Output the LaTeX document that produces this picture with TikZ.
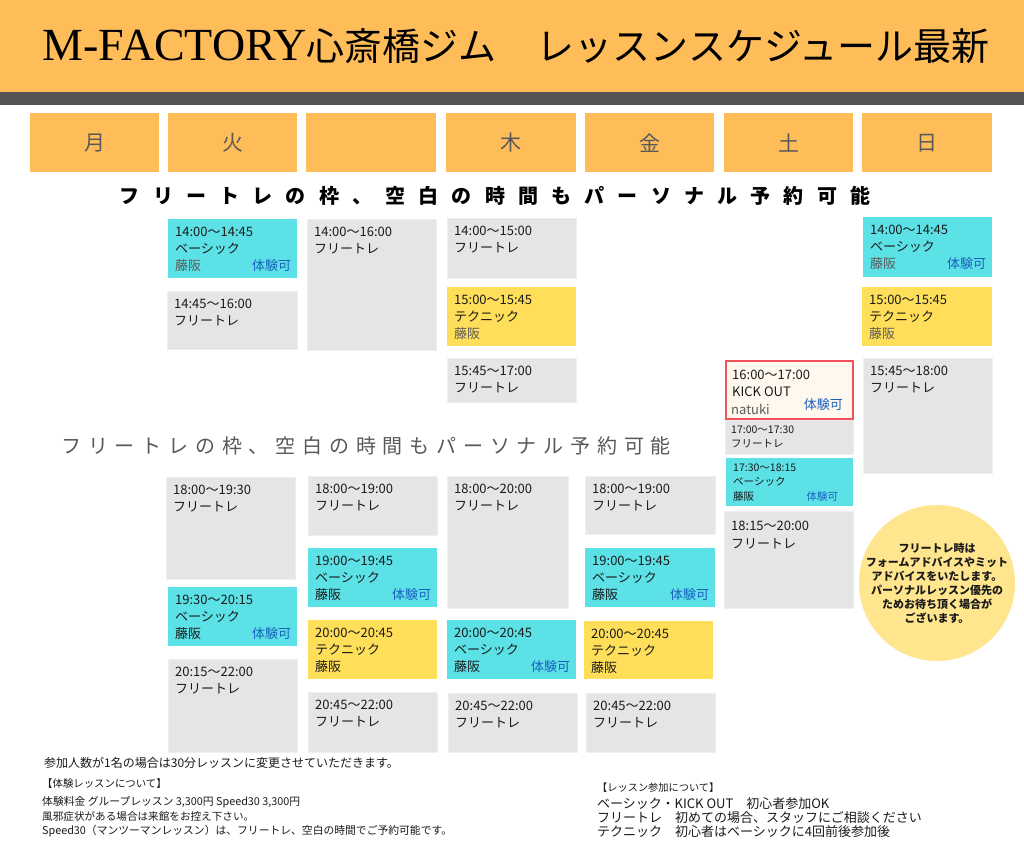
\documentclass[tikz,border=0pt]{standalone}
\usepackage{fontspec}
\setmainfont{Noto Sans CJK JP}
\newfontfamily\titleserif{Liberation Serif}
\definecolor{hdrorange}{HTML}{FFBD59}
\definecolor{hdrdark}{HTML}{545454}
\definecolor{daytx}{HTML}{595959}
\definecolor{slotcyan}{HTML}{5CE1E6}
\definecolor{slotyellow}{HTML}{FFDE59}
\definecolor{slotgray}{HTML}{E5E5E5}
\definecolor{slotcream}{HTML}{FFF8EE}
\definecolor{slotred}{HTML}{F0525A}
\definecolor{circyellow}{HTML}{FFE58E}
\definecolor{bluetx}{HTML}{1B5FC1}
\definecolor{teachtx}{HTML}{5A5A5A}
\definecolor{txt}{HTML}{1A1A1A}
\newcommand\spacedtext[2]{\def\spacedw{#1}\spacedloop#2\relax}
\def\spacedloop#1{\ifx\relax#1\else\makebox[\spacedw][c]{#1}\expandafter\spacedloop\fi}
\tikzset{
  daybox/.style={fill=hdrorange,inner sep=0pt,anchor=north west,text=daytx,font=\fontsize{21}{21}\selectfont},
  slotbase/.style={inner sep=0pt,anchor=north west},
  cyanslot/.style={slotbase,fill=slotcyan},
  yellowslot/.style={slotbase,fill=slotyellow},
  grayslot/.style={slotbase,fill=slotgray,draw=slotgray!60!white,line width=0.8pt},
  kickslot/.style={slotbase,fill=slotcream,draw=slotred,line width=2pt},
  tx/.style={inner sep=0pt,text=txt,font=\fontsize{13}{13}\selectfont},
  smalltx/.style={inner sep=0pt,text=txt,font=\fontsize{10.5}{10.5}\selectfont},
  notetx/.style={inner sep=0pt,text=txt,anchor=base west}
}
% name, x1, y1, x2, y2, style
\newcommand\slot[6]{\node[#6,minimum width={#4-#2},minimum height={#5-#3}] (#1) at (#2,#3) {};}
% box, offset, text
\newcommand\tL[3]{\node[tx,anchor=base west] (#1-l#2) at ([shift={(7,#2)}]#1.north west) {#3};}
\newcommand\tT[2]{\node[tx,anchor=base west,text=teachtx] (#1-t) at ([shift={(7,#2)}]#1.north west) {藤阪};}
\newcommand\tB[2]{\node[tx,anchor=base west] (#1-t) at ([shift={(7,#2)}]#1.north west) {藤阪};}
\newcommand\tR[2]{\node[tx,anchor=base east,text=bluetx] (#1-r) at ([shift={(-6,#2)}]#1.north east) {体験可};}
\newcommand\freeslot[2]{\tL{#1}{17}{#2}\tL{#1}{34}{フリートレ}}
\newcommand\basicslot[2]{\tL{#1}{17}{#2}\tL{#1}{34}{ベーシック}\tB{#1}{51}\tR{#1}{51}}
\newcommand\techslot[2]{\tL{#1}{17}{#2}\tL{#1}{34}{テクニック}\tB{#1}{51}}
\begin{document}
\begin{tikzpicture}[x=1pt,y=-1pt]
\useasboundingbox (0,0) rectangle (1024,862);
\fill[white] (0,0) rectangle (1024,862);
% header
\node[fill=hdrorange,minimum width=1024,minimum height=92,inner sep=0pt,anchor=north west] (hdr) at (0,0) {};
\node[fill=hdrdark,minimum width=1024,minimum height=13,inner sep=0pt,anchor=north west] (hdrbar) at (0,92) {};
\node[inner sep=0pt,anchor=base,text=black] (title) at (516,60) {{\titleserif\fontsize{46}{46}\selectfont M-FACTORY}{\fontsize{38}{38}\selectfont 心斎橋ジム\hspace{40pt}レッスンスケジュール最新}};
% day boxes
\node[daybox,minimum width=129,minimum height=59] (d1) at (30,113) {月};
\node[daybox,minimum width=129,minimum height=59] (d2) at (168,113) {火};
\node[daybox,minimum width=130,minimum height=59] (d3) at (306,113) {};
\node[daybox,minimum width=130,minimum height=59] (d4) at (446,113) {木};
\node[daybox,minimum width=129,minimum height=59] (d5) at (585,113) {金};
\node[daybox,minimum width=129,minimum height=59] (d6) at (724,113) {土};
\node[daybox,minimum width=130,minimum height=59] (d7) at (862,113) {日};
% banners
\node[inner sep=0pt,text=black,font=\bfseries\fontsize{20}{20}\selectfont] (ban1) at (495,196) {\spacedtext{33.2pt}{フリートレの枠、空白の時間もパーソナル予約可能}};
\node[inner sep=0pt,text=daytx,font=\fontsize{20}{20}\selectfont] (ban2) at (366,446) {\spacedtext{26.8pt}{フリートレの枠、空白の時間もパーソナル予約可能}};
% ---- afternoon slots
\slot{tueA}{168}{219}{297}{278}{cyanslot}
\tL{tueA}{17}{14:00〜14:45}\tL{tueA}{34}{ベーシック}\tT{tueA}{51}\tR{tueA}{51}
\slot{tueB}{167}{291}{297}{349}{grayslot}
\freeslot{tueB}{14:45〜16:00}
\slot{wedA}{307}{219}{436}{350}{grayslot}
\freeslot{wedA}{14:00〜16:00}
\slot{thuA}{447}{218}{576}{278}{grayslot}
\freeslot{thuA}{14:00〜15:00}
\slot{thuB}{447}{287}{576}{346}{yellowslot}
\tL{thuB}{17}{15:00〜15:45}\tL{thuB}{34}{テクニック}\tT{thuB}{51}
\slot{thuC}{447}{358}{576}{402}{grayslot}
\freeslot{thuC}{15:45〜17:00}
\slot{sunA}{863}{217}{992}{277}{cyanslot}
\tL{sunA}{17}{14:00〜14:45}\tL{sunA}{34}{ベーシック}\tT{sunA}{51}\tR{sunA}{51}
\slot{sunB}{862}{287}{992}{346}{yellowslot}
\tL{sunB}{17}{15:00〜15:45}\tL{sunB}{34}{テクニック}\tT{sunB}{51}
\slot{sunC}{863}{358}{992}{473}{grayslot}
\freeslot{sunC}{15:45〜18:00}
% saturday
\slot{satA}{725}{360}{852}{418}{kickslot}
\tL{satA}{19}{16:00〜17:00}\tL{satA}{36}{KICK OUT}
\node[tx,anchor=base west,text=teachtx] (satA-t) at ([shift={(6,54)}]satA.north west) {natuki};
\node[tx,anchor=base east,text=bluetx] (satA-r) at ([shift={(-11,49)}]satA.north east) {体験可};
\slot{satB}{725}{420}{853}{454}{grayslot}
\node[smalltx,anchor=base west] (satB-a) at ([shift={(6,13)}]satB.north west) {17:00〜17:30};
\node[smalltx,anchor=base west] (satB-b) at ([shift={(6,27)}]satB.north west) {フリートレ};
\slot{satC}{726}{458}{853}{506}{cyanslot}
\node[smalltx,anchor=base west] (satC-a) at ([shift={(7,13)}]satC.north west) {17:30〜18:15};
\node[smalltx,anchor=base west] (satC-b) at ([shift={(7,27)}]satC.north west) {ベーシック};
\node[smalltx,anchor=base west] (satC-c) at ([shift={(7,42)}]satC.north west) {藤阪};
\node[smalltx,anchor=base east,text=bluetx] (satC-r) at ([shift={(-15,42)}]satC.north east) {体験可};
\slot{satD}{724}{511}{853}{608}{grayslot}
\tL{satD}{19}{18:15〜20:00}\tL{satD}{37}{フリートレ}
% ---- evening slots
\slot{tueC}{166}{477}{295}{579}{grayslot}
\freeslot{tueC}{18:00〜19:30}
\slot{tueD}{168}{587}{297}{646}{cyanslot}
\basicslot{tueD}{19:30〜20:15}
\slot{tueE}{168}{659}{297}{752}{grayslot}
\freeslot{tueE}{20:15〜22:00}
\slot{wedB}{308}{476}{437}{535}{grayslot}
\freeslot{wedB}{18:00〜19:00}
\slot{wedC}{308}{548}{437}{607}{cyanslot}
\basicslot{wedC}{19:00〜19:45}
\slot{wedD}{308}{620}{437}{679}{yellowslot}
\techslot{wedD}{20:00〜20:45}
\slot{wedE}{308}{692}{437}{752}{grayslot}
\freeslot{wedE}{20:45〜22:00}
\slot{thuD}{447}{476}{568}{608}{grayslot}
\freeslot{thuD}{18:00〜20:00}
\slot{thuE}{447}{620}{576}{679}{cyanslot}
\basicslot{thuE}{20:00〜20:45}
\slot{thuF}{448}{693}{577}{752}{grayslot}
\freeslot{thuF}{20:45〜22:00}
\slot{friA}{585}{476}{715}{534}{grayslot}
\freeslot{friA}{18:00〜19:00}
\slot{friB}{585}{548}{715}{607}{cyanslot}
\basicslot{friB}{19:00〜19:45}
\slot{friC}{584}{621}{713}{679}{yellowslot}
\techslot{friC}{20:00〜20:45}
\slot{friD}{586}{693}{715}{752}{grayslot}
\freeslot{friD}{20:45〜22:00}
% note circle
\node[circle,fill=circyellow,minimum size=156,inner sep=0pt] (note) at (937,583) {};
\node[align=center,inner sep=0pt,text=txt,font=\bfseries\fontsize{11}{14}\selectfont] (notetext) at (937,583) {フリートレ時は\\フォームアドバイスやミット\\アドバイスをいたします。\\パーソナルレッスン優先の\\ためお待ち頂く場合が\\ございます。};
% bottom notes
\node[notetx,font=\fontsize{12}{12}\selectfont] (n1) at (44,767) {参加人数が1名の場合は30分レッスンに変更させていただきます。};
\node[notetx,font=\fontsize{10.4}{10.4}\selectfont] (n2) at (42,787) {【体験レッスンについて】};
\node[notetx,font=\fontsize{10.8}{10.8}\selectfont] (n3) at (42,805) {体験料金 グループレッスン 3,300円 Speed30 3,300円};
\node[notetx,font=\fontsize{10.6}{10.6}\selectfont] (n4) at (42,820) {風邪症状がある場合は来館をお控え下さい。};
\node[notetx,font=\fontsize{10.8}{10.8}\selectfont] (n5) at (42,834) {Speed30（マンツーマンレッスン）は、フリートレ、空白の時間でご予約可能です。};
\node[notetx,font=\fontsize{10.2}{10.2}\selectfont] (r1) at (597,791) {【レッスン参加について】};
\node[notetx,font=\fontsize{13}{13}\selectfont] (r2) at (597,808) {ベーシック・KICK OUT　初心者参加OK};
\node[notetx,font=\fontsize{13}{13}\selectfont] (r3) at (597,822) {フリートレ　初めての場合、スタッフにご相談ください};
\node[notetx,font=\fontsize{13}{13}\selectfont] (r4) at (597,836) {テクニック　初心者はベーシックに4回前後参加後};
\end{tikzpicture}
\end{document}
